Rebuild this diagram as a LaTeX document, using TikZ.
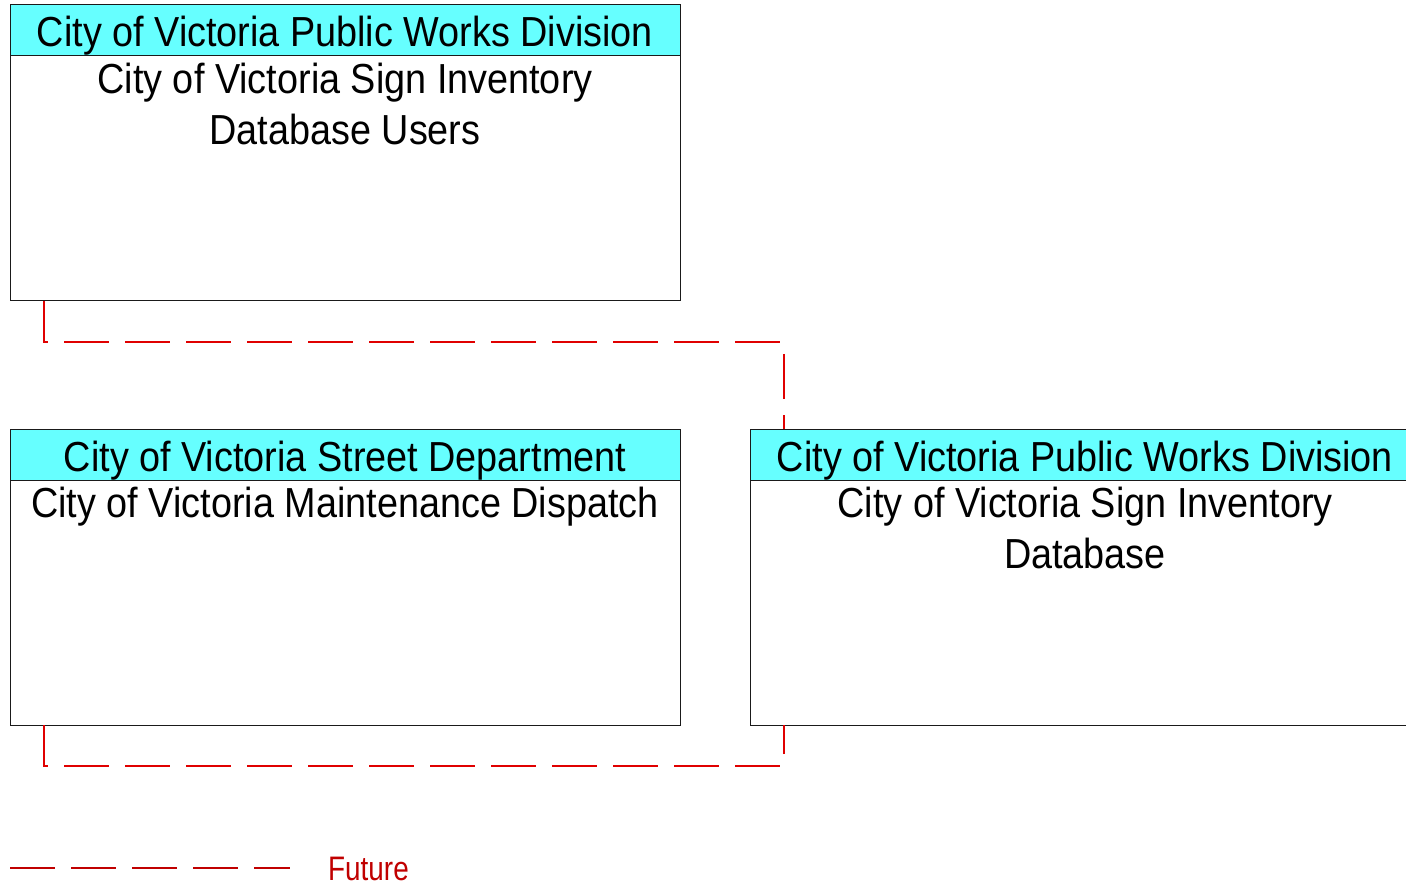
\documentclass[tikz,border=0pt]{standalone}
\usepackage{fontspec}
\setmainfont{Liberation Sans}[FakeStretch=0.9]
\newfontfamily\legendfont{Liberation Sans}[FakeStretch=0.82]
\usetikzlibrary{positioning}
\definecolor{headcyan} {HTML}{66FFFF}
\definecolor{boxink}   {HTML}{1A1A1A}
\definecolor{linkred}  {RGB}{224,0,0}
\definecolor{legendred}{HTML}{C00000}
\tikzset{
  headbox/.style  ={draw=boxink, fill=headcyan, line width=1pt, outer sep=0pt,
                    minimum width=670pt, minimum height=51pt, inner sep=0pt,
                    text height=33pt, text depth=0pt,
                    font=\fontsize{42}{51}\selectfont},
  bodybox/.style  ={draw=boxink, fill=white, line width=1pt, outer sep=0pt,
                    minimum width=670pt, minimum height=245pt, inner sep=0pt},
  bodytext/.style ={align=center, anchor=north, inner sep=0pt,
                    font=\fontsize{42}{51}\selectfont},
  futurelink/.style={draw=linkred, line width=1.2pt, dash pattern=on 45pt off 16pt},
  legendlink/.style={draw=legendred, line width=1.2pt, dash pattern=on 45pt off 16pt},
}
\begin{document}
\begin{tikzpicture}[x=1pt,y=-1pt]
  \useasboundingbox (0,0) rectangle (1406,885);

  % sign inventory users
  \node[headbox] (usersHead) at (345,30.5) {City of Victoria Public Works Division};
  \node[bodybox, below=0pt of usersHead] (usersBody) {};
  \node[bodytext] at ([yshift=-7pt]usersBody.north)
    {City of Victoria Sign Inventory\\Database Users};

  % maintenance dispatch
  \node[headbox] (dispatchHead) at (345,454.5) {City of Victoria Street Department};
  \node[bodybox, below=0pt of dispatchHead] (dispatchBody) {};
  \node[bodytext] at ([yshift=-7pt]dispatchBody.north)
    {City of Victoria Maintenance Dispatch};

  % sign inventory database
  \node[headbox] (signdbHead) at (1085,454.5) {City of Victoria Public Works Division};
  \node[bodybox, below=0pt of signdbHead] (signdbBody) {};
  \node[bodytext] at ([yshift=-7pt]signdbBody.north)
    {City of Victoria Sign Inventory\\Database};

  % future links
  \coordinate (usersFoot) at ([xshift=34pt]usersBody.south west);
  \coordinate (usersTurn) at ([xshift=34pt,yshift=-41pt]usersBody.south west);
  \coordinate (signdbTop) at ([xshift=34pt]signdbHead.north west);
  \coordinate (dispatchFoot) at ([xshift=34pt]dispatchBody.south west);
  \coordinate (dispatchTurn) at ([xshift=34pt,yshift=-41pt]dispatchBody.south west);
  \coordinate (signdbFoot) at ([xshift=34pt]signdbBody.south west);
  \draw[futurelink] (usersFoot) -- (usersTurn) -| (signdbTop);
  \draw[futurelink] (dispatchFoot) -- (dispatchTurn) -| (signdbFoot);

  % legend
  \coordinate (legendStart) at (10,868);
  \coordinate (legendEnd) at (290,868);
  \draw[legendlink] (legendStart) -- (legendEnd);
  \node[anchor=base west, inner sep=0pt, text=legendred,
        font=\legendfont\fontsize{34}{40}\selectfont] (futureLabel) at (328,880) {Future};
\end{tikzpicture}
\end{document}
